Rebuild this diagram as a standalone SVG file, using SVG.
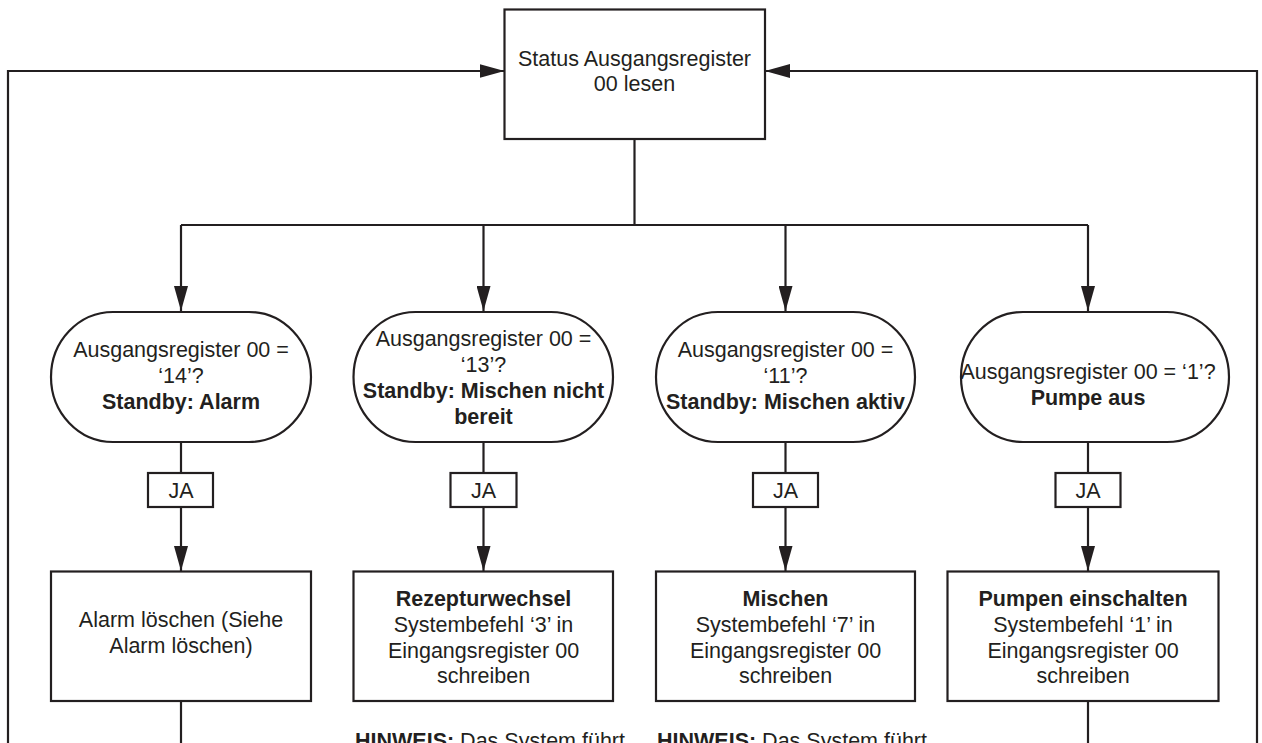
<svg xmlns="http://www.w3.org/2000/svg" width="1262" height="743" viewBox="0 0 1262 743">
<style>
.bx{fill:#fff;stroke:#231f20;stroke-width:2.2}
.ln{fill:none;stroke:#231f20;stroke-width:2.2}
.t{font-family:"Liberation Sans",Arial,Helvetica,sans-serif;font-size:21.5px;fill:#231f20;text-anchor:middle}
.b{font-weight:bold}
.tl{font-family:"Liberation Sans",Arial,Helvetica,sans-serif;font-size:21.5px;fill:#231f20}
</style>
<defs>
<marker id="ar" markerUnits="userSpaceOnUse" markerWidth="26" markerHeight="14" refX="25" refY="7" orient="auto">
<path d="M0,0 L25,7 L0,14 z" fill="#231f20"/>
</marker>
</defs>
<rect width="1262" height="743" fill="#fff"/>
<g id="connectors">
<path class="ln" d="M634.5,139 V225"/>
<path class="ln" d="M181,225 H1088"/>
<path class="ln" d="M181,225 V311" marker-end="url(#ar)"/>
<path class="ln" d="M483.5,225 V311" marker-end="url(#ar)"/>
<path class="ln" d="M785.5,225 V311" marker-end="url(#ar)"/>
<path class="ln" d="M1088,225 V311" marker-end="url(#ar)"/>
<path class="ln" d="M181,442 V473"/>
<path class="ln" d="M483.5,442 V473"/>
<path class="ln" d="M785.5,442 V473"/>
<path class="ln" d="M1088,442 V473"/>
<path class="ln" d="M181,507 V571" marker-end="url(#ar)"/>
<path class="ln" d="M483.5,507 V571" marker-end="url(#ar)"/>
<path class="ln" d="M785.5,507 V571" marker-end="url(#ar)"/>
<path class="ln" d="M1088,507 V571" marker-end="url(#ar)"/>
<path class="ln" d="M181,701 V750"/>
<path class="ln" d="M1088,701 V750"/>
<path class="ln" d="M8,750 V71 H504.5" marker-end="url(#ar)"/>
<path class="ln" d="M1257,750 V71 H765" marker-end="url(#ar)"/>
</g>
<g id="start">
<rect class="bx" x="504.5" y="9.5" width="260.5" height="129.5"/>
<text class="t" x="634.5" y="66">Status Ausgangsregister</text>
<text class="t" x="634.5" y="91">00 lesen</text>
</g>
<g id="dec1">
<rect class="bx" x="51" y="312" width="260" height="130" rx="62" ry="65"/>
<text class="t" x="181" y="357">Ausgangsregister 00 =</text>
<text class="t" x="181" y="383">‘14’?</text>
<text class="t b" x="181" y="409">Standby: Alarm</text>
</g>
<g id="dec2">
<rect class="bx" x="353.5" y="312" width="259.5" height="130" rx="62" ry="65"/>
<text class="t" x="483.5" y="346">Ausgangsregister 00 =</text>
<text class="t" x="483.5" y="372">‘13’?</text>
<text class="t b" x="483.5" y="398">Standby: Mischen nicht</text>
<text class="t b" x="483.5" y="424">bereit</text>
</g>
<g id="dec3">
<rect class="bx" x="656" y="312" width="259" height="130" rx="62" ry="65"/>
<text class="t" x="785.5" y="357">Ausgangsregister 00 =</text>
<text class="t" x="785.5" y="383">‘11’?</text>
<text class="t b" x="785.5" y="409">Standby: Mischen aktiv</text>
</g>
<g id="dec4">
<rect class="bx" x="961" y="312" width="268" height="130" rx="62" ry="65"/>
<text class="t" x="1088" y="379">Ausgangsregister 00 = ‘1’?</text>
<text class="t b" x="1088" y="405">Pumpe aus</text>
</g>
<g id="ja1"><rect class="bx" x="148" y="473" width="65" height="34"/><text class="t" x="181" y="498">JA</text></g>
<g id="ja2"><rect class="bx" x="450.5" y="473" width="66" height="34"/><text class="t" x="483.5" y="498">JA</text></g>
<g id="ja3"><rect class="bx" x="753" y="473" width="65" height="34"/><text class="t" x="785.5" y="498">JA</text></g>
<g id="ja4"><rect class="bx" x="1055.5" y="473" width="65" height="34"/><text class="t" x="1088" y="498">JA</text></g>
<g id="act1">
<rect class="bx" x="51" y="571.5" width="260" height="129.5"/>
<text class="t" x="181" y="627">Alarm löschen (Siehe</text>
<text class="t" x="181" y="653">Alarm löschen)</text>
</g>
<g id="act2">
<rect class="bx" x="353.5" y="571.5" width="259.5" height="129.5"/>
<text class="t b" x="483.5" y="606">Rezepturwechsel</text>
<text class="t" x="483.5" y="632">Systembefehl ‘3’ in</text>
<text class="t" x="483.5" y="658">Eingangsregister 00</text>
<text class="t" x="483.5" y="683">schreiben</text>
</g>
<g id="act3">
<rect class="bx" x="656" y="571.5" width="259" height="129.5"/>
<text class="t b" x="785.5" y="606">Mischen</text>
<text class="t" x="785.5" y="632">Systembefehl ‘7’ in</text>
<text class="t" x="785.5" y="658">Eingangsregister 00</text>
<text class="t" x="785.5" y="683">schreiben</text>
</g>
<g id="act4">
<rect class="bx" x="947.5" y="571.5" width="271" height="129.5"/>
<text class="t b" x="1083" y="606">Pumpen einschalten</text>
<text class="t" x="1083" y="632">Systembefehl ‘1’ in</text>
<text class="t" x="1083" y="658">Eingangsregister 00</text>
<text class="t" x="1083" y="683">schreiben</text>
</g>
<g id="note2"><text class="tl" x="355" y="748"><tspan font-weight="bold">HINWEIS:</tspan> Das System führt</text></g>
<g id="note3"><text class="tl" x="657" y="748"><tspan font-weight="bold">HINWEIS:</tspan> Das System führt</text></g>
</svg>
